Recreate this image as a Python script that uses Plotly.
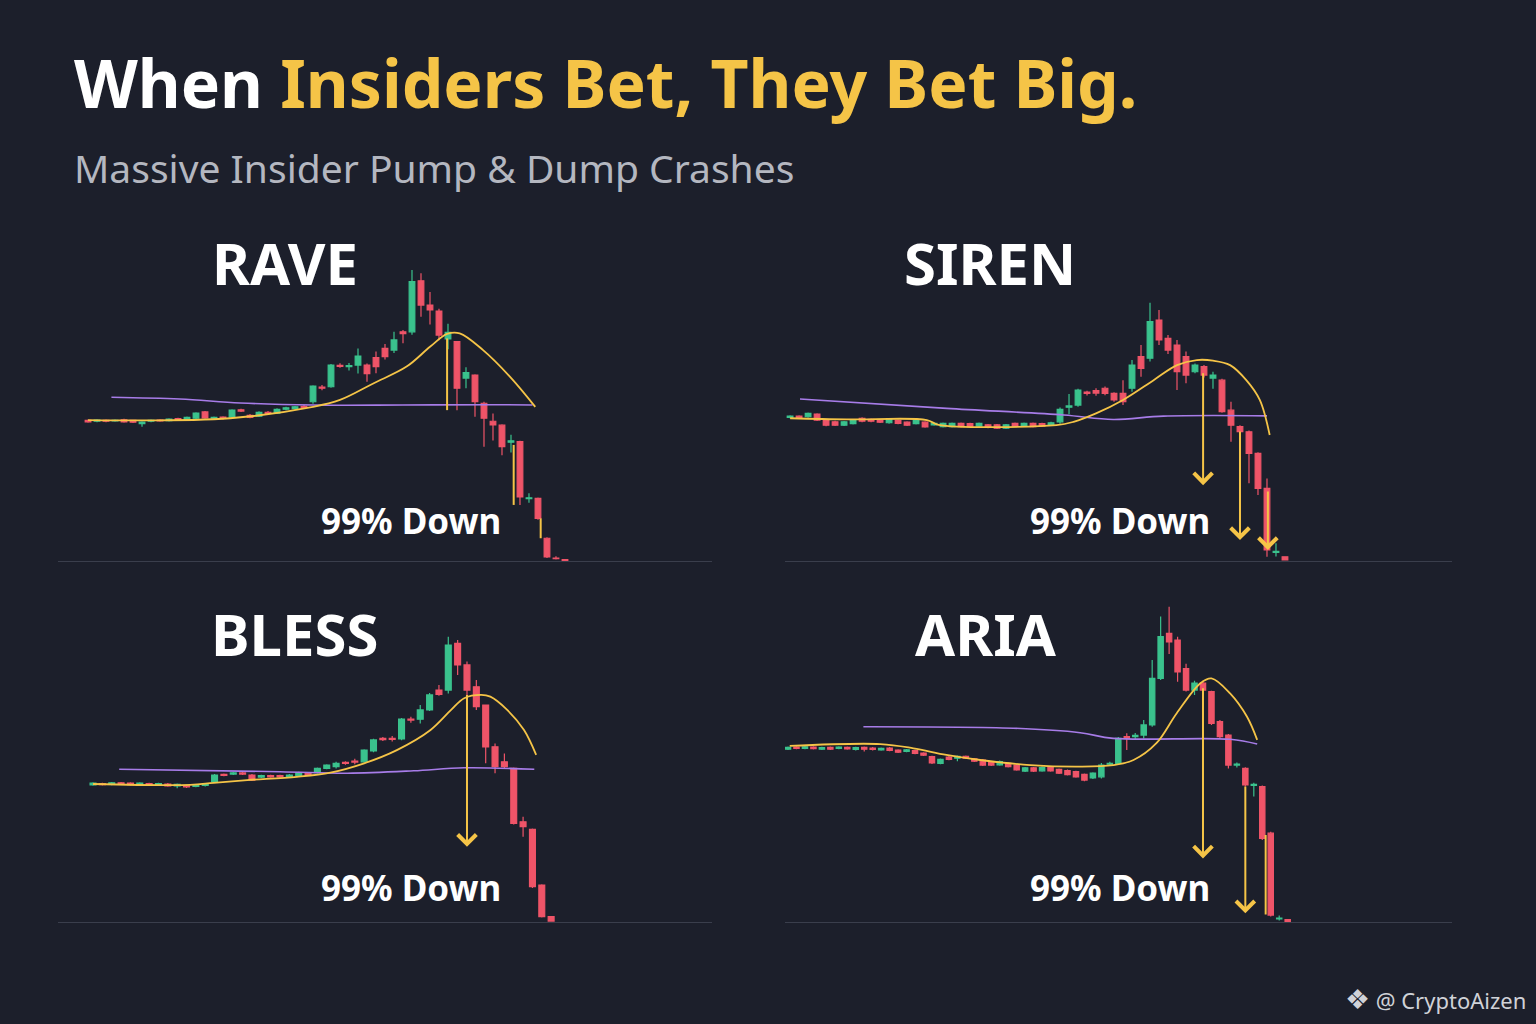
import plotly.graph_objects as go

BG = "#1c1f2b"
GREEN = "#3ac28d"
RED = "#ef5468"
GOLD = "#f5c447"
PURPLE = "#a77ce8"
AXIS = "#3a3e4c"

# ---- RAVE ----  (open, high, low, close) per candle, price as % of peak scale
rave_candles = [
    (46.9, 47.2, 46.1, 46.4), (46.6, 47.3, 46.3, 47.0), (46.9, 47.2, 46.3, 46.6), (46.7, 47.2, 46.4, 46.9),
    (47.1, 47.4, 46.1, 46.4), (46.9, 47.1, 46.0, 46.3), (45.8, 46.6, 44.8, 46.3), (46.6, 47.2, 46.3, 46.9),
    (47.0, 47.3, 46.4, 46.7), (46.8, 47.6, 46.5, 47.3), (47.5, 47.8, 46.7, 47.0), (47.2, 48.2, 46.9, 47.9),
    (47.6, 49.6, 47.3, 49.3), (49.7, 50.0, 47.4, 47.7), (47.6, 48.2, 47.2, 47.9), (48.0, 48.3, 47.2, 47.6),
    (48.0, 50.6, 47.7, 50.3), (50.4, 50.8, 49.7, 50.0), (48.6, 49.0, 47.6, 47.9), (48.3, 49.9, 48.0, 49.6),
    (49.6, 50.0, 48.9, 49.2), (49.3, 50.9, 49.0, 50.6), (50.6, 51.4, 50.3, 51.1), (50.8, 51.7, 50.5, 51.4),
    (51.6, 52.0, 50.9, 51.2), (53.1, 58.6, 52.4, 58.3), (58.0, 58.7, 56.9, 57.6), (58.1, 65.7, 57.8, 65.3),
    (65.2, 65.9, 64.4, 64.9), (64.8, 66.0, 63.5, 65.1), (65.3, 70.8, 62.5, 68.3), (65.3, 65.8, 59.8, 62.5),
    (67.8, 69.8, 62.6, 64.8), (70.9, 72.3, 67.2, 68.1), (70.3, 76.4, 69.3, 73.7), (76.4, 77.0, 72.6, 75.8),
    (76.4, 97.0, 75.4, 93.1), (93.4, 95.9, 81.4, 85.3), (85.3, 89.7, 78.8, 83.7), (83.3, 84.1, 73.6, 75.3),
    (74.0, 79.1, 70.6, 76.2), (73.1, 73.3, 50.3, 57.6), (61.0, 64.6, 57.6, 62.8), (62.0, 62.3, 48.1, 53.1),
    (52.6, 53.1, 38.1, 47.6), (46.6, 49.2, 40.2, 45.4), (45.3, 45.6, 35.3, 38.1), (39.6, 42.1, 36.2, 40.1),
    (39.8, 40.1, 18.7, 21.4), (20.8, 22.6, 19.4, 21.1), (20.9, 21.2, 13.8, 14.2), (7.6, 7.9, 1.0, 1.4),
    (1.0, 1.6, 0.5, 0.8), (0.5, 0.6, 0.1, 0.2),
]
rave_ma_x = [0, 15.8, 25, 28, 31.7, 35.4, 38, 39.9, 41.3, 43.9, 46.9, 49.7]
rave_ma_y = [47.0, 47.6, 51.4, 53.7, 59.2, 64.8, 71.4, 75.7, 75.9, 70.3, 61.4, 51.4]
rave_slow_x = [2.6, 10.2, 16.9, 25, 35, 45, 49.4]
rave_slow_y = [54.6, 54.0, 52.7, 52.0, 52.0, 52.1, 52.0]
rave_drop_x = [39.9, 47.3, 50.3]
rave_drop_top = [74.2, 38.7, 14.2]
rave_drop_bottom = [50.3, 18.7, 7.6]
rave_arrow_x = []
rave_arrow_top = []
rave_arrow_head = []

# ---- SIREN ----
siren_candles = [
    (47.9, 48.6, 47.6, 48.3), (48.3, 48.6, 47.6, 47.9), (48.1, 49.5, 47.8, 49.2), (49.0, 49.3, 46.7, 47.0),
    (47.0, 47.3, 44.9, 45.3), (46.4, 46.8, 45.0, 45.3), (45.3, 46.7, 45.0, 46.4), (45.8, 47.2, 45.5, 46.9),
    (47.6, 47.9, 46.3, 46.6), (47.2, 47.5, 46.3, 46.6), (47.0, 47.3, 46.0, 46.3), (46.1, 47.5, 45.8, 47.2),
    (46.9, 47.2, 45.6, 45.9), (46.3, 46.6, 45.0, 45.3), (45.8, 47.2, 45.5, 46.9), (46.3, 46.6, 44.4, 44.7),
    (45.4, 46.2, 45.1, 45.9), (44.8, 46.2, 44.5, 45.9), (44.8, 46.2, 44.5, 45.9), (45.9, 46.2, 44.5, 44.8),
    (45.8, 46.1, 44.6, 44.9), (45.0, 46.2, 44.7, 45.9), (45.4, 45.7, 44.3, 44.6), (45.4, 45.7, 44.0, 44.3),
    (44.3, 45.7, 44.0, 45.4), (45.9, 46.2, 44.7, 45.0), (45.0, 46.2, 44.7, 45.9), (45.9, 46.2, 44.5, 44.8),
    (45.8, 46.1, 44.7, 45.0), (45.3, 46.4, 45.0, 46.1), (46.4, 51.2, 45.8, 50.6), (51.3, 55.7, 48.9, 51.7),
    (52.0, 57.4, 51.4, 57.0), (56.3, 56.8, 55.2, 55.9), (56.8, 57.6, 55.1, 56.0), (57.6, 58.2, 55.3, 55.9),
    (55.9, 56.3, 53.1, 53.7), (55.9, 60.3, 52.0, 53.1), (57.6, 67.0, 56.4, 65.3), (68.1, 72.0, 61.4, 64.2),
    (67.6, 86.1, 66.5, 79.8), (80.3, 83.7, 72.0, 73.7), (74.2, 75.3, 69.0, 70.3), (72.0, 73.7, 57.0, 63.1),
    (68.1, 69.8, 59.3, 62.0), (63.1, 65.8, 62.6, 65.3), (64.8, 65.3, 61.2, 62.0), (61.0, 63.1, 57.4, 62.0),
    (60.3, 60.8, 49.4, 49.8), (50.3, 53.1, 39.8, 45.3), (44.8, 45.3, 42.6, 43.1), (43.1, 43.5, 25.9, 35.9),
    (35.9, 36.3, 22.0, 24.2), (24.2, 27.5, 1.4, 3.7), (2.9, 5.9, 1.5, 3.2), (1.4, 1.6, 0.2, 0.4),
]
siren_ma_x = [0, 6.3, 15.2, 16.5, 29.6, 31.5, 34, 37, 40.4, 43, 45.2, 47, 48.9, 50.7, 52.2, 53.3]
siren_ma_y = [47.6, 47.2, 47.0, 45.4, 45.3, 46.4, 49.2, 53.7, 60.3, 65.3, 67.0, 66.8, 65.3, 60.3, 53.7, 42.0]
siren_slow_x = [1.1, 17.4, 30.4, 35.9, 41.5, 53.0]
siren_slow_y = [54.0, 50.9, 48.7, 47.2, 48.3, 48.4]
siren_drop_x = []
siren_drop_top = []
siren_drop_bottom = []
siren_arrow_x = [45.9, 50.0, 53.1]
siren_arrow_top = [63.1, 43.7, 23.7]
siren_arrow_head = [25.3, 7.0, 3.7]

# ---- BLESS ----
bless_candles = [
    (45.7, 46.6, 45.4, 46.3), (46.1, 46.4, 45.5, 45.8), (45.9, 46.7, 45.6, 46.4), (46.4, 46.7, 45.7, 46.0),
    (46.3, 46.6, 45.5, 45.8), (45.9, 46.6, 45.6, 46.3), (46.1, 46.4, 45.4, 45.7), (45.8, 46.4, 45.5, 46.1),
    (46.0, 46.3, 45.1, 45.4), (45.4, 46.2, 44.6, 45.9), (45.4, 45.7, 44.7, 45.0), (45.2, 45.9, 44.9, 45.6),
    (45.5, 46.3, 45.2, 46.0), (46.8, 49.3, 46.5, 49.0), (49.2, 49.5, 48.6, 48.9), (49.3, 50.0, 49.0, 49.7),
    (49.7, 50.0, 49.0, 49.3), (49.0, 49.3, 47.0, 47.3), (48.3, 49.1, 48.0, 48.8), (48.8, 49.1, 48.1, 48.4),
    (48.8, 49.1, 48.1, 48.4), (48.5, 49.3, 48.2, 49.0), (48.7, 50.1, 48.4, 49.8), (49.5, 49.8, 48.9, 49.2),
    (49.8, 51.5, 49.5, 51.2), (51.2, 52.6, 50.9, 52.3), (51.8, 53.4, 51.2, 52.9), (53.2, 53.6, 52.4, 52.9),
    (53.6, 54.4, 52.6, 53.3), (53.4, 57.6, 53.1, 57.3), (57.0, 61.1, 56.6, 60.7), (61.2, 61.7, 60.3, 60.8),
    (61.2, 62.0, 60.2, 60.9), (61.0, 68.0, 60.6, 67.6), (67.6, 68.4, 66.4, 67.3), (67.6, 72.3, 66.2, 70.7),
    (70.7, 76.3, 70.3, 75.7), (77.3, 79.0, 75.4, 75.9), (77.3, 95.1, 76.2, 92.3), (92.9, 94.0, 82.3, 85.7),
    (85.7, 86.8, 74.0, 77.3), (78.4, 80.7, 70.7, 71.8), (72.3, 72.5, 52.9, 58.4), (58.4, 59.5, 49.6, 51.8),
    (53.4, 56.2, 51.2, 51.8), (51.2, 51.5, 32.5, 32.9), (33.4, 35.1, 28.4, 31.8), (30.9, 31.2, 11.3, 11.8),
    (12.3, 12.6, 1.5, 1.8), (1.8, 2.0, 0.1, 0.3),
]
bless_ma_x = [0, 10.4, 12.9, 16.5, 21.8, 25.4, 29, 32.5, 36.1, 38.3, 39.7, 41.5, 42.5, 44.3, 46.1, 47.4]
bless_ma_y = [46.0, 45.7, 46.4, 47.3, 48.4, 49.8, 52.9, 57.3, 64.0, 70.7, 74.6, 75.7, 75.1, 70.7, 64.0, 55.7]
bless_slow_x = [2.8, 20.0, 27.2, 34.3, 39.7, 47.2]
bless_slow_y = [50.9, 50.1, 49.6, 50.4, 51.4, 50.9]
bless_drop_x = []
bless_drop_top = []
bless_drop_bottom = []
bless_arrow_x = [40.0]
bless_arrow_top = [76.2]
bless_arrow_head = [25.1]

# ---- ARIA ----
aria_candles = [
    (57.6, 58.5, 57.3, 58.2), (58.3, 58.6, 57.6, 57.9), (57.9, 58.7, 57.6, 58.4), (58.3, 58.6, 57.5, 57.8),
    (57.6, 58.4, 57.3, 58.1), (58.2, 58.5, 57.3, 57.6), (57.9, 58.6, 57.6, 58.3), (58.2, 58.5, 57.4, 57.7),
    (57.5, 58.4, 57.2, 58.1), (58.2, 58.5, 56.8, 57.6), (58.0, 58.3, 57.2, 57.5), (57.4, 58.2, 57.1, 57.9),
    (58.0, 58.3, 56.9, 57.2), (57.3, 57.6, 56.3, 56.6), (56.9, 57.7, 56.6, 57.4), (57.1, 57.4, 55.9, 56.2),
    (56.3, 56.6, 55.3, 55.6), (55.1, 55.4, 52.7, 53.0), (52.9, 54.5, 52.6, 54.2), (55.0, 55.3, 53.9, 54.2),
    (54.6, 55.5, 53.6, 55.2), (55.2, 55.5, 54.3, 54.6), (54.4, 54.7, 53.3, 53.6), (54.0, 54.3, 52.0, 52.3),
    (53.4, 53.7, 52.0, 52.3), (52.4, 53.8, 52.1, 53.5), (52.9, 53.2, 51.5, 51.8), (52.3, 52.6, 50.4, 50.7),
    (50.3, 51.7, 50.0, 51.4), (51.4, 51.7, 50.0, 50.3), (50.4, 51.8, 50.1, 51.5), (51.7, 52.0, 50.1, 50.4),
    (50.9, 51.2, 49.3, 49.6), (50.5, 50.8, 48.8, 49.1), (50.1, 50.4, 48.1, 48.4), (49.2, 49.5, 46.9, 47.3),
    (48.0, 49.9, 47.7, 49.6), (48.4, 53.0, 47.8, 52.3), (52.6, 53.4, 52.0, 52.9), (52.9, 61.7, 52.4, 61.2),
    (61.8, 62.9, 57.3, 61.2), (61.8, 63.0, 61.0, 62.2), (62.3, 67.3, 61.2, 65.7), (65.7, 87.3, 65.1, 81.2),
    (81.2, 101.8, 80.7, 95.1), (96.2, 105.1, 89.3, 93.4), (94.0, 95.1, 80.1, 83.4), (84.5, 86.1, 76.8, 77.3),
    (77.3, 80.4, 75.7, 79.6), (79.6, 80.4, 76.8, 77.3), (76.8, 77.1, 65.7, 66.2), (66.8, 67.3, 61.2, 61.8),
    (62.3, 62.7, 51.2, 52.3), (52.3, 53.2, 51.5, 52.6), (51.2, 51.6, 45.2, 45.7), (45.5, 46.4, 41.8, 45.9),
    (45.1, 45.5, 27.3, 27.9), (29.6, 30.1, 1.8, 2.3), (1.0, 2.2, 0.5, 1.3), (0.8, 0.9, 0.1, 0.2),
]
aria_ma_x = [0.2, 10.9, 14.8, 18.7, 22.7, 28.6, 34.5, 38.4, 40.8, 43.5, 45.9, 48.7, 50.0, 52.2, 54.2, 55.4]
aria_ma_y = [58.7, 59.3, 57.9, 55.7, 54.0, 52.3, 51.8, 52.3, 54.0, 59.6, 69.6, 79.6, 81.2, 76.2, 68.4, 60.7]
aria_slow_x = [8.9, 26.6, 34.5, 38.4, 52.2, 55.4]
aria_slow_y = [65.1, 64.6, 63.1, 61.2, 60.9, 59.3]
aria_drop_x = [56.4]
aria_drop_top = [29.0]
aria_drop_bottom = [2.5]
aria_arrow_x = [49.0, 54.0]
aria_arrow_top = [78.4, 45.7]
aria_arrow_head = [21.2, 2.9]

fig = go.Figure()


def add_panel(n, name, candles, ma_x, ma_y, slow_x, slow_y, drop_x, drop_top, drop_bottom,
              arrow_x, arrow_top, arrow_head, xdom, ydom, xrange, title_x, title_y, down_x, down_y):
    xa = "x" if n == 1 else f"x{n}"
    ya = "y" if n == 1 else f"y{n}"
    idx = list(range(len(candles)))
    o, h, l, c = zip(*candles)

    fig.add_trace(go.Scatter(x=slow_x, y=slow_y, mode="lines", line=dict(color=PURPLE, width=1.6),
                             line_shape="spline", xaxis=xa, yaxis=ya, hoverinfo="skip"))
    fig.add_trace(go.Candlestick(
        x=idx, open=o, high=h, low=l, close=c, xaxis=xa, yaxis=ya, name=name,
        increasing=dict(line=dict(color=GREEN, width=1.2), fillcolor=GREEN),
        decreasing=dict(line=dict(color=RED, width=1.2), fillcolor=RED),
        whiskerwidth=0, hoverinfo="skip"))
    fig.add_trace(go.Scatter(x=ma_x, y=ma_y, mode="lines", line=dict(color=GOLD, width=1.8),
                             line_shape="spline", xaxis=xa, yaxis=ya, hoverinfo="skip"))

    if drop_x:
        dx, dy = [], []
        for xv, t, b in zip(drop_x, drop_top, drop_bottom):
            dx += [xv, xv, None]
            dy += [t, b, None]
        fig.add_trace(go.Scatter(x=dx, y=dy, mode="lines", line=dict(color=GOLD, width=2),
                                 xaxis=xa, yaxis=ya, hoverinfo="skip"))

    for xv, t, hd in zip(arrow_x, arrow_top, arrow_head):
        fig.add_annotation(x=xv, y=hd, ax=xv, ay=t, xref=xa, yref=ya, axref=xa, ayref=ya,
                           showarrow=True, arrowhead=4, arrowsize=1.8, arrowwidth=2,
                           arrowcolor=GOLD, text="")

    fig.update_layout({
        ("xaxis" if n == 1 else f"xaxis{n}"): dict(
            domain=xdom, range=xrange, anchor=ya, showgrid=False, zeroline=False,
            showticklabels=False, ticks="", showline=True, linecolor=AXIS, linewidth=1,
            rangeslider=dict(visible=False), fixedrange=True),
        ("yaxis" if n == 1 else f"yaxis{n}"): dict(
            domain=ydom, range=[0, 110], anchor=xa, showgrid=False, zeroline=False,
            showticklabels=False, showline=False, fixedrange=True),
    })

    fig.add_annotation(x=title_x, y=title_y, xref="paper", yref="paper", xanchor="left",
                       yanchor="middle", text=f"<b>{name}</b>", showarrow=False,
                       font=dict(family="Noto Sans", size=58, color="#ffffff"))
    fig.add_annotation(x=down_x, y=down_y, xref="paper", yref="paper", xanchor="center",
                       yanchor="middle", text="<b>99% Down</b>", showarrow=False,
                       font=dict(family="Noto Sans", size=35, color="#ffffff"))


top = [0.4521, 0.7744]
bottom = [0.0996, 0.4219]
left = [0.0378, 0.4635]
right = [0.5111, 0.9453]

add_panel(1, "RAVE", rave_candles, rave_ma_x, rave_ma_y, rave_slow_x, rave_slow_y,
          rave_drop_x, rave_drop_top, rave_drop_bottom, rave_arrow_x, rave_arrow_top, rave_arrow_head,
          left, top, [-3.33, 69.33], 0.137, 0.744, 0.2676, 0.492)
add_panel(2, "SIREN", siren_candles, siren_ma_x, siren_ma_y, siren_slow_x, siren_slow_y,
          siren_drop_x, siren_drop_top, siren_drop_bottom, siren_arrow_x, siren_arrow_top, siren_arrow_head,
          right, top, [-0.56, 73.56], 0.5870, 0.744, 0.7292, 0.492)
add_panel(3, "BLESS", bless_candles, bless_ma_x, bless_ma_y, bless_slow_x, bless_slow_y,
          bless_drop_x, bless_drop_top, bless_drop_bottom, bless_arrow_x, bless_arrow_top, bless_arrow_head,
          left, bottom, [-3.74, 66.2], 0.1360, 0.381, 0.2676, 0.133)
add_panel(4, "ARIA", aria_candles, aria_ma_x, aria_ma_y, aria_slow_x, aria_slow_y,
          aria_drop_x, aria_drop_top, aria_drop_bottom, aria_arrow_x, aria_arrow_top, aria_arrow_head,
          right, bottom, [-0.35, 78.4], 0.5945, 0.381, 0.7292, 0.133)

# headline + subtitle
fig.add_annotation(x=0.0469, y=0.92, xref="paper", yref="paper", xanchor="left", yanchor="middle",
                   showarrow=False,
                   text=f"<b>When <span style='color:{GOLD}'>Insiders Bet, They Bet Big.</span></b>",
                   font=dict(family="Noto Sans", size=66, color="#ffffff"))
fig.add_annotation(x=0.0469, y=0.836, xref="paper", yref="paper", xanchor="left", yanchor="middle",
                   showarrow=False, text="Massive Insider Pump &amp; Dump Crashes",
                   font=dict(family="Noto Sans", size=39, color="#b4b7c0"))
# watermark
fig.add_annotation(x=0.995, y=0.025, xref="paper", yref="paper", xanchor="right", yanchor="middle",
                   showarrow=False,
                   text="<span style='font-size:28px'>❖</span> @ CryptoAizen",
                   font=dict(family="Noto Sans", size=22, color="#d0d2d8"))

fig.update_layout(
    width=1536, height=1024, margin=dict(l=0, r=0, t=0, b=0),
    paper_bgcolor=BG, plot_bgcolor=BG, showlegend=False,
    boxgap=0.1,
)

fig.write_html("out.html", config={"displayModeBar": False},
               post_script="document.body.style.margin='0';document.body.style.background='%s';" % BG)
